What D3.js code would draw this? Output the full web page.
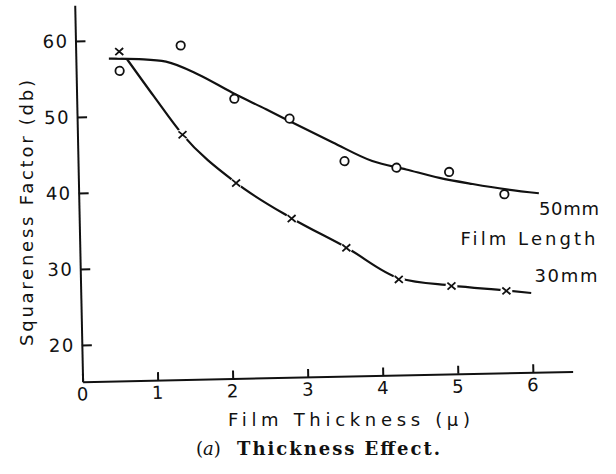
<!DOCTYPE html>
<html>
<head>
<meta charset="utf-8">
<script src="https://cdn.jsdelivr.net/npm/d3@7"></script>
<style>
  body { margin: 0; background: #fff; }
  svg { display: block; }
  .tick text { font-family: "DejaVu Sans", sans-serif; font-size: 18px; letter-spacing: 1.5px; fill: #111; }
  .lbl { font-family: "DejaVu Sans", sans-serif; font-size: 18px; fill: #111; }
</style>
</head>
<body>
<div id="chart"></div>
<script>
// film thickness (micron) of the measured samples
const thickness = [0.58, 1.40, 2.10, 2.83, 3.55, 4.24, 4.94, 5.67];
// squareness factor (db), 50mm film length (circles)
const len50 = [55.96, 59.13, 51.98, 49.21, 43.46, 42.46, 41.75, 38.67];
// squareness factor (db), 30mm film length (crosses)
const len30 = [58.5, 47.38, 40.88, 36.05, 32.05, 27.75, 26.74, 25.95];

// hand drawn trend curves
const fit50X = [0.44, 0.84, 1.2, 1.64, 2.07, 2.52, 2.96, 3.4, 3.92, 4.37, 4.81, 5.25, 5.7, 6.13];
const fit50Y = [57.6, 57.45, 57.05, 55.2, 52.8, 50.5, 48.2, 45.95, 43.4, 42.2, 41.0, 40.1, 39.3, 38.7];
const fit30X = [0.68, 1.03, 1.40, 2.10, 2.83, 3.55, 4.25, 4.95, 5.67, 6.0];
const fit30Y = [57.5, 52.5, 47.4, 40.9, 36.1, 32.1, 27.9, 26.8, 26.0, 25.6];

const xTicks = [0, 1, 2, 3, 4, 5, 6];
const yTicks = [20, 30, 40, 50, 60];

const W = 616, H = 474;
const ox = 82.6, oy = 381.7;   // plot origin

const svg = d3.select('#chart').append('svg')
  .attr('width', W).attr('height', H);

const x = d3.scaleLinear().domain([0, 6.53]).range([ox, ox + 6.53 * 75.06]);
const y = d3.scaleLinear().domain([15.17, 64.7]).range([oy, oy - (64.7 - 15.17) * 7.6]);

// the scanned figure is a little tilted
const plot = svg.append('g')
  .attr('transform', 'rotate(-1.2,' + ox + ',' + oy + ')');

plot.append('g')
  .attr('transform', 'translate(0,' + oy + ')')
  .call(d3.axisBottom(x).tickValues(xTicks).tickSizeInner(-8).tickSizeOuter(0).tickPadding(6).tickFormat(d3.format('d')));

plot.append('g')
  .attr('transform', 'translate(' + ox + ',0)')
  .call(d3.axisLeft(y).tickValues(yTicks).tickSizeInner(-10).tickSizeOuter(0).tickPadding(7).tickFormat(d3.format('d')));

plot.selectAll('.domain, .tick line')
  .attr('stroke', '#111').attr('stroke-width', 2);

const line = d3.line()
  .x(d => x(d[0]))
  .y(d => y(d[1]))
  .curve(d3.curveMonotoneX);

plot.append('path')
  .attr('d', line(d3.zip(fit50X, fit50Y)))
  .attr('fill', 'none').attr('stroke', '#111').attr('stroke-width', 2.2);

plot.append('path')
  .attr('d', line(d3.zip(fit30X, fit30Y)))
  .attr('fill', 'none').attr('stroke', '#111').attr('stroke-width', 2.2);

// circles, 50mm
plot.selectAll('.c50')
  .data(d3.zip(thickness, len50))
  .enter().append('circle')
  .attr('class', 'c50')
  .attr('cx', d => x(d[0]))
  .attr('cy', d => y(d[1]))
  .attr('r', 4.2)
  .attr('fill', '#fff').attr('stroke', '#111').attr('stroke-width', 1.8);

// crosses, 30mm - the line is broken around each one
const cross = plot.selectAll('.c30')
  .data(d3.zip(thickness, len30))
  .enter().append('g')
  .attr('class', 'c30')
  .attr('transform', d => 'translate(' + x(d[0]) + ',' + y(d[1]) + ')');

cross.append('circle').attr('r', 6).attr('fill', '#fff');
cross.append('path')
  .attr('d', 'M-4,-3.5L4,3.5M-4,3.5L4,-3.5')
  .attr('stroke', '#111').attr('stroke-width', 1.8);

// texts
svg.append('text').attr('class', 'lbl')
  .attr('transform', 'translate(33,213) rotate(-90)')
  .attr('text-anchor', 'middle')
  .attr('textLength', 266).attr('lengthAdjust', 'spacing')
  .text('Squareness Factor (db)');

svg.append('text').attr('class', 'lbl')
  .attr('x', 349).attr('y', 426)
  .attr('text-anchor', 'middle')
  .attr('textLength', 242).attr('lengthAdjust', 'spacing')
  .text('Film  Thickness  (μ)');

svg.append('text').attr('class', 'lbl')
  .attr('x', 569).attr('y', 215)
  .attr('text-anchor', 'middle')
  .attr('textLength', 60).attr('lengthAdjust', 'spacing')
  .text('50mm');

svg.append('text').attr('class', 'lbl')
  .attr('x', 528).attr('y', 245)
  .attr('text-anchor', 'middle')
  .attr('textLength', 135).attr('lengthAdjust', 'spacing')
  .text('Film Length');

svg.append('text').attr('class', 'lbl')
  .attr('x', 566).attr('y', 282)
  .attr('text-anchor', 'middle')
  .attr('textLength', 63).attr('lengthAdjust', 'spacing')
  .text('30mm');

// caption
const cap = svg.append('g')
  .style('font-family', '"DejaVu Serif", serif')
  .style('fill', '#111');
const capA = cap.append('text')
  .attr('x', 196).attr('y', 455)
  .style('font-size', '18px');
capA.append('tspan').text('(');
capA.append('tspan').style('font-style', 'italic').text('a');
capA.append('tspan').text(')');
cap.append('text')
  .attr('x', 237).attr('y', 455)
  .attr('textLength', 203).attr('lengthAdjust', 'spacing')
  .style('font-size', '18px').style('font-weight', 'bold')
  .text('Thickness Effect.');
</script>
</body>
</html>
